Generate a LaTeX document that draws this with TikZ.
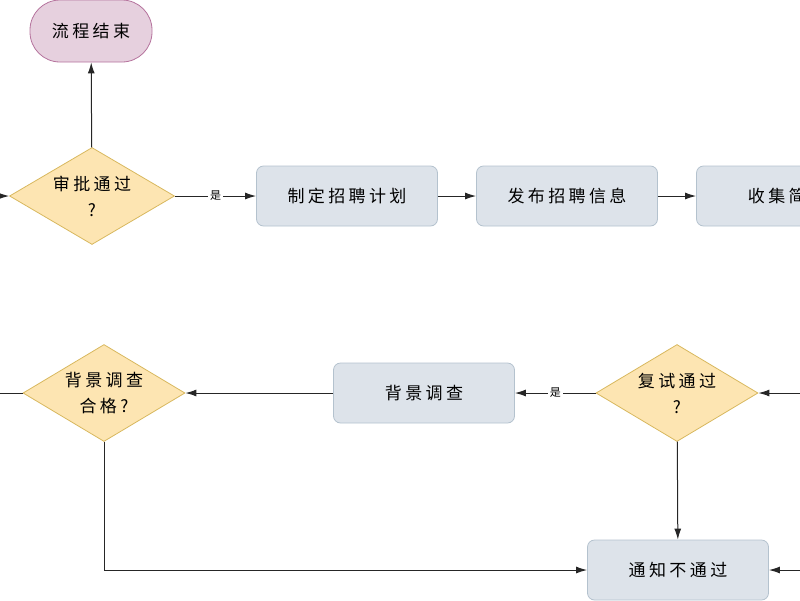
\documentclass[tikz,border=0pt]{standalone}
\usepackage{fontspec}
\setmainfont{Noto Sans CJK SC}[LetterSpace=20]
\usetikzlibrary{shapes.geometric,arrows.meta}
\definecolor{bfill}{HTML}{DDE3EA}\definecolor{bline}{HTML}{B4C2CE}
\definecolor{dfill}{HTML}{FDE5B2}\definecolor{dline}{HTML}{D8B85E}
\definecolor{pfill}{HTML}{E6D0DE}\definecolor{pline}{HTML}{B5739D}
\begin{document}
\begin{tikzpicture}[x=1pt,y=-1pt,
 box/.style={draw=bline,fill=bfill,rounded corners=7pt,minimum width=181pt,minimum height=60pt,font=\fontsize{17}{20}\selectfont,line width=0.8pt},
 dia/.style={draw=dline,fill=dfill,diamond,aspect=1.7,inner sep=0pt,minimum width=#1,minimum height=97pt,align=center,font=\fontsize{17}{26}\selectfont,line width=0.8pt},
 arr/.style={draw=black!85,line width=1pt,-{Latex[length=11pt,width=7pt]}},
 lab/.style={fill=white,font=\fontsize{11}{12}\selectfont,inner sep=2pt}]
\useasboundingbox (0,0) rectangle (800,600);
\clip (0,0) rectangle (800,600);
\node[draw=pline,fill=pfill,rounded corners=30pt,minimum width=122pt,minimum height=62pt,font=\fontsize{17}{20}\selectfont,line width=0.8pt] (end) at (91,31) {流程结束};
\node[dia=165pt] (d1) at (92,196) {审批通过\\?};
\node[box] (b1) at (347,196) {制定招聘计划};
\node[box] (b2) at (567,196) {发布招聘信息};
\node[box] (b3) at (787,196) {收集简历};
\node[dia=162pt] (d2) at (677,393) {复试通过\\?};
\node[box] (b4) at (424,393) {背景调查};
\node[dia=162pt] (d3) at (104,393) {背景调查\\合格?};
\node[box] (b5) at (678,570) {通知不通过};
\coordinate (inL) at (-20,196);
\coordinate (inR) at (820,393);
\coordinate (inR2) at (820,570);
\coordinate (outL) at (-20,393);
\draw[arr] (inL) -- (d1);
\draw[arr] (d1) -- (end);
\draw[arr] (d1) -- node[lab]{是} (b1);
\draw[arr] (b1) -- (b2);
\draw[arr] (b2) -- (b3);
\draw[arr] (inR) -- (d2);
\draw[arr] (d2) -- node[lab]{是} (b4);
\draw[arr] (b4) -- (d3);
\draw[line width=1pt,draw=black!85] (d3) -- (outL);
\draw[arr] (d2) -- (b5);
\draw[arr] (d3.south) |- (b5.west);
\draw[arr] (inR2) -- (b5);
\end{tikzpicture}
\end{document}
